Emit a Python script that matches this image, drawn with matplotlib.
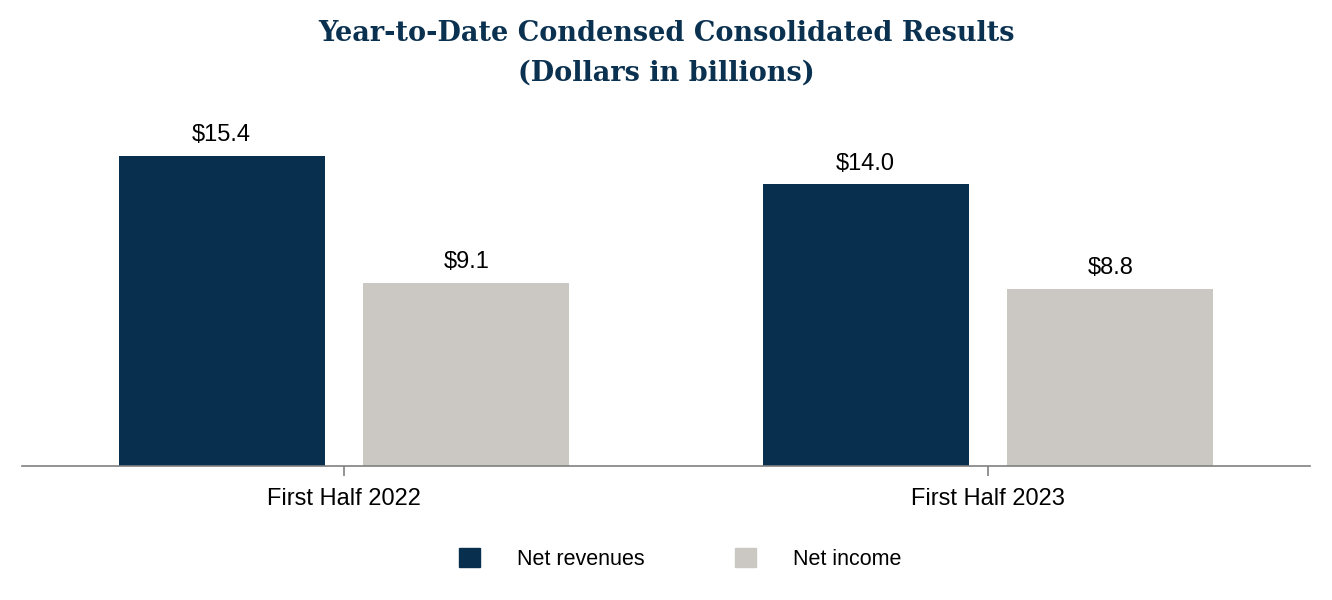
import numpy as np
import matplotlib.pyplot as plt
from matplotlib.patches import Patch

periodos = ["First Half 2022", "First Half 2023"]
series = ["Net revenues", "Net income"]
net_revenues = [15.4, 14.0]
net_income = [9.1, 8.8]

COLOR_NAVY = "#08304e"
COLOR_GRIS = "#cbc8c3"
COLOR_TITULO = "#0b3150"

plt.rcParams['font.family'] = ['Liberation Sans', 'DejaVu Sans']

fig = plt.figure(figsize=(13.32, 6), dpi=100)
ax = fig.add_axes([0.0165, 0.2233, 0.967, 0.5703])

x = np.arange(len(periodos))
ancho = 0.32
desp = 0.19

b1 = ax.bar(x - desp, net_revenues, ancho, color=COLOR_NAVY, label=series[0])
b2 = ax.bar(x + desp, net_income, ancho, color=COLOR_GRIS, label=series[1])

for barras in (b1, b2):
    ax.bar_label(barras, labels=[f"${v:.1f}" for v in barras.datavalues],
                 padding=7, fontsize=17, color="black")

ax.set_xlim(-0.5, 1.5)
ax.set_ylim(0, 17)
ax.set_xticks(x)
ax.set_xticklabels(periodos, fontsize=17)
ax.set_yticks([])
for lado in ("top", "right", "left"):
    ax.spines[lado].set_visible(False)
ax.spines["bottom"].set_color("#808080")
ax.spines["bottom"].set_linewidth(1.2)
ax.tick_params(axis="x", length=7, width=1.2, color="#808080", pad=9)

fig.text(0.5, 0.966, "Year-to-Date Condensed Consolidated Results\n(Dollars in billions)",
         ha="center", va="top", fontsize=19.5, fontweight="bold",
         family=["DejaVu Serif"], color=COLOR_TITULO,
         linespacing=1.6)

handles = [Patch(color=COLOR_NAVY), Patch(color=COLOR_GRIS)]
fig.legend(handles, series, loc="center", bbox_to_anchor=(0.5105, 0.069),
           ncol=2, frameon=False, fontsize=15.5, handlelength=1.0,
           handleheight=1.0, handletextpad=1.7, columnspacing=4.2)

fig.savefig("out.png", dpi=100)
